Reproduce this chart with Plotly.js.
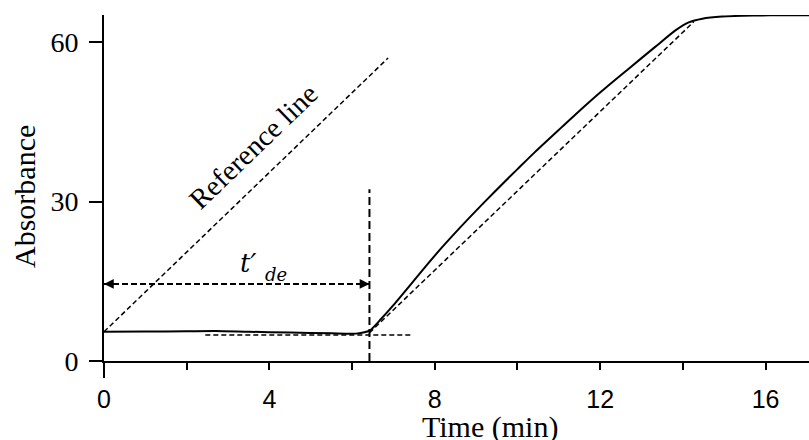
<!DOCTYPE html>
<html>
<head>
<meta charset="utf-8">
<script src="https://cdn.plot.ly/plotly-3.0.1.min.js"></script>
<style>html,body{margin:0;padding:0;background:#fff;}#chart{width:809px;height:440px;}</style>
</head>
<body>
<div id="chart"></div>
<script>
// Measured absorbance curve
const time = [0, 1, 2, 2.7, 3.5, 4.5, 5.5, 6.1, 6.42, 6.7, 7.0, 7.43, 7.8, 8.2, 8.61, 9.2, 9.66, 10.0, 10.42, 11.07, 11.39, 12.04, 12.69, 13.33, 13.82, 14.14, 14.47, 14.95, 15.7, 16.5, 17.05];
const absorbance = [5.5, 5.55, 5.6, 5.65, 5.5, 5.35, 5.2, 5.15, 5.7, 7.9, 10.5, 14.5, 18.0, 21.6, 25.1, 29.9, 33.5, 36.1, 39.3, 44.0, 46.3, 50.8, 55.0, 59.1, 62.2, 63.7, 64.4, 64.8, 65.0, 65.05, 65.05];

// Construction lines
const refLineX = [0, 6.87];
const refLineY = [5.5, 57.0];
const baseLineX = [2.45, 7.43];
const baseLineY = [4.9, 4.9];
const tangentX = [6.42, 14.26];
const tangentY = [5.3, 63.8];
const onsetX = [6.42, 6.42];
const onsetY = [0, 32.3];
const spanX = [0, 6.42];
const spanY = [14.5, 14.5];

// Axis ticks
const xTickVals = [0, 4, 8, 12, 16];
const xTickText = ['0', '4', '8', '12', '16'];
const yTickVals = [0, 30, 60];
const yTickText = ['0', '30', '60'];

const serif = "'Liberation Serif', 'Times New Roman', serif";
const sans = "'Liberation Sans', Arial, sans-serif";
const mathSerif = "'DejaVu Serif', serif";

const dashStyle = (w, d) => ({color: '#000', width: w, dash: d});

const traces = [
  {x: time, y: absorbance, mode: 'lines', line: {color: '#000', width: 2, shape: 'spline', smoothing: 0.6}, hoverinfo: 'skip'},
  {x: refLineX, y: refLineY, mode: 'lines', line: dashStyle(1.5, '5px,3px'), hoverinfo: 'skip'},
  {x: baseLineX, y: baseLineY, mode: 'lines', line: dashStyle(1.5, '5px,3px'), hoverinfo: 'skip'},
  {x: tangentX, y: tangentY, mode: 'lines', line: dashStyle(1.5, '5px,3px'), hoverinfo: 'skip'},
  {x: onsetX, y: onsetY, mode: 'lines', line: dashStyle(2, '8px,4px'), hoverinfo: 'skip', cliponaxis: false},
  {x: spanX, y: spanY, mode: 'lines', line: dashStyle(2, '6px,3px'), hoverinfo: 'skip'}
];

const layout = {
  width: 809, height: 440,
  margin: {l: 104, r: 0, t: 15, b: 79, pad: 0},
  paper_bgcolor: '#fff', plot_bgcolor: '#fff',
  showlegend: false,
  xaxis: {
    range: [0, 17.05], showgrid: false, zeroline: false,
    showline: true, linecolor: '#000', linewidth: 2,
    tickmode: 'array', tickvals: xTickVals, ticktext: xTickText,
    ticks: 'outside', ticklen: 7, tickwidth: 2, tickcolor: '#000',
    minor: {dtick: 2, tick0: 0, ticks: 'outside', ticklen: 7, tickwidth: 2, tickcolor: '#000', showgrid: false},
    tickfont: {family: sans, size: 25, color: '#000'},
    ticklabelstandoff: 8
  },
  yaxis: {
    range: [0, 65.1], showgrid: false, zeroline: false,
    showline: true, linecolor: '#000', linewidth: 2,
    tickmode: 'array', tickvals: yTickVals, ticktext: yTickText,
    ticks: 'outside', ticklen: 13, tickwidth: 2, tickcolor: '#000',
    tickfont: {family: serif, size: 28, color: '#000'},
    ticklabelstandoff: 5
  },
  shapes: [
    {type: 'line', xref: 'paper', yref: 'paper', x0: 0, x1: 0, y0: 0, y1: -0.049, line: {color: '#000', width: 2}}
  ],
  annotations: [
    {x: 0, y: 0.474, xref: 'paper', yref: 'paper', xanchor: 'center', yanchor: 'middle', xshift: -79,
     text: 'Absorbance', showarrow: false, textangle: -90,
     font: {family: serif, size: 30, color: '#000'}},
    {x: 0.5475, y: -0.19, xref: 'paper', yref: 'paper', xanchor: 'center', yanchor: 'middle',
     text: 'Time (min)', showarrow: false,
     font: {family: serif, size: 30, color: '#000'}},
    {x: 3.62, y: 40.3, xref: 'x', yref: 'y', text: 'Reference line', showarrow: false, textangle: -44,
     font: {family: serif, size: 28.5, color: '#000'}},
    {x: 3.48, y: 18.4, xref: 'x', yref: 'y', text: '<i>t′</i>', showarrow: false,
     font: {family: mathSerif, size: 26, color: '#000'}},
    {x: 4.17, y: 16.2, xref: 'x', yref: 'y', text: '<i>de</i>', showarrow: false,
     font: {family: mathSerif, size: 18, color: '#000'}},
    {x: spanX[0], y: spanY[0], ax: spanX[0] + 0.3, ay: spanY[0], xref: 'x', yref: 'y', axref: 'x', ayref: 'y',
     text: '', showarrow: true, arrowhead: 2, arrowsize: 1.3, arrowwidth: 1.5, arrowcolor: '#000', standoff: 0},
    {x: spanX[1], y: spanY[1], ax: spanX[1] - 0.3, ay: spanY[1], xref: 'x', yref: 'y', axref: 'x', ayref: 'y',
     text: '', showarrow: true, arrowhead: 2, arrowsize: 1.3, arrowwidth: 1.5, arrowcolor: '#000', standoff: 0}
  ]
};

Plotly.newPlot('chart', traces, layout, {staticPlot: true, displayModeBar: false});
</script>
</body>
</html>
